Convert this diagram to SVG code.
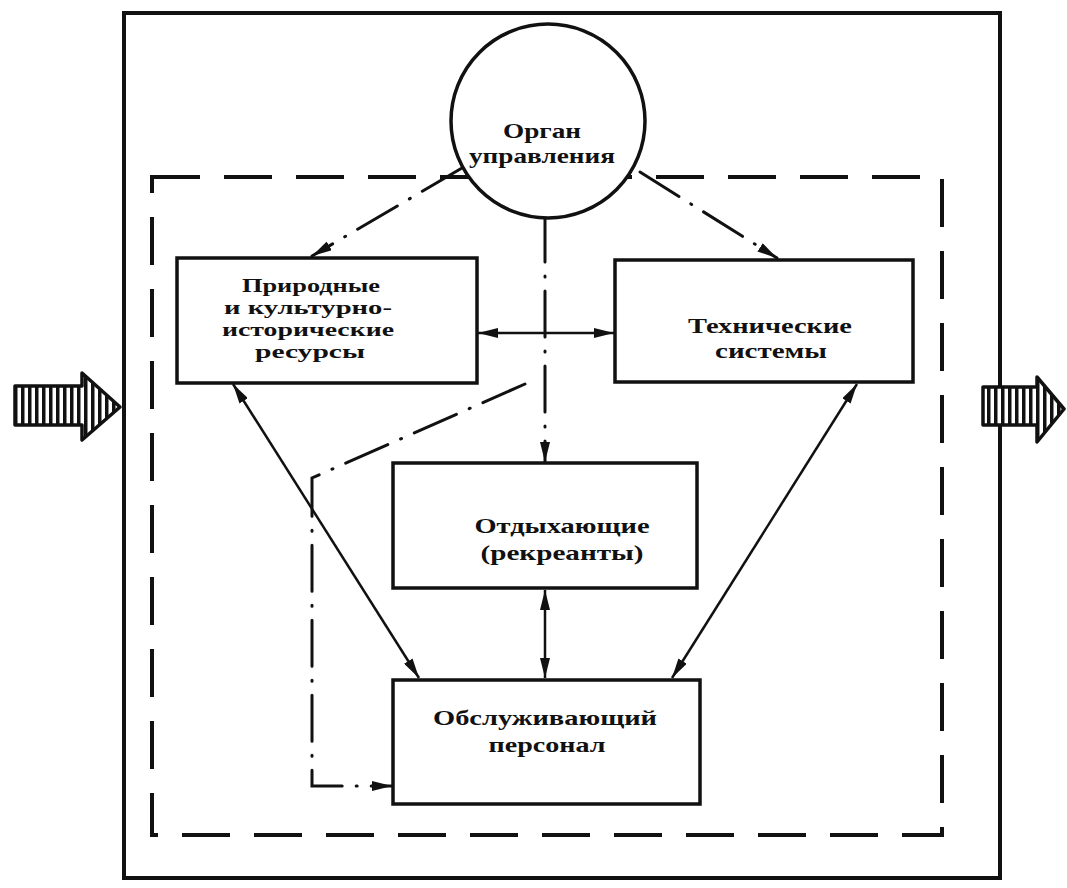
<svg xmlns="http://www.w3.org/2000/svg" width="1067" height="888" viewBox="0 0 1067 888">
<style>
.frame{fill:none;stroke:#111;stroke-width:4}
.dash{fill:none;stroke:#111;stroke-width:4;stroke-dasharray:48 24}
.box{fill:#fff;stroke:#111;stroke-width:3.5}
.dd{fill:none;stroke:#111;stroke-width:3;stroke-linecap:round;stroke-dasharray:46 14 1 14}
.sol{fill:none;stroke:#111;stroke-width:2.5}
.t{font-family:"Liberation Serif","Times New Roman",serif;font-weight:bold;font-size:21px;fill:#111;text-anchor:middle}
.s{font-size:18px}
.big{fill:url(#stripes);stroke:#111;stroke-width:3.5;stroke-linejoin:round}
</style>
<defs>
<marker id="ah" viewBox="0 0 20 10" refX="20" refY="5" markerWidth="20" markerHeight="10" markerUnits="userSpaceOnUse" orient="auto-start-reverse">
<path d="M0,0 L20,5 L0,10 Z" fill="#111"/>
</marker>
<pattern id="stripes" width="7" height="10" patternUnits="userSpaceOnUse">
<rect width="7" height="10" fill="#fff"/>
<rect width="3.5" height="10" fill="#111"/>
</pattern>
</defs>
<rect width="1067" height="888" fill="#fff"/>
<g id="frame">
<rect class="frame" x="124" y="13" width="876" height="865"/>
<rect class="dash" x="152" y="177" width="790" height="658"/>
</g>
<g id="input">
<polygon class="big" points="15,386 82,386 82,373 120,407 82,440 82,425 15,425"/>
</g>
<g id="output">
<polygon class="big" points="983,387 1037,387 1037,377 1064,409 1037,442 1037,425 983,425"/>
</g>
<g id="connectors">
<line class="dd" x1="462" y1="168" x2="312" y2="256" marker-end="url(#ah)"/>
<line class="dd" x1="640" y1="172" x2="777" y2="258" marker-end="url(#ah)"/>
<line class="dd" x1="545" y1="216" x2="545" y2="462" marker-end="url(#ah)"/>
<path class="dd" d="M525,384 L312,478 L312,786 L392,786" marker-end="url(#ah)"/>
<line class="sol" x1="478" y1="333" x2="614" y2="333" marker-start="url(#ah)" marker-end="url(#ah)"/>
<line class="sol" x1="233" y1="384" x2="419" y2="678" marker-start="url(#ah)" marker-end="url(#ah)"/>
<line class="sol" x1="857" y1="384" x2="672" y2="678" marker-start="url(#ah)" marker-end="url(#ah)"/>
<line class="sol" x1="545" y1="590" x2="545" y2="678" marker-start="url(#ah)" marker-end="url(#ah)"/>
</g>
<g id="organ">
<circle cx="548" cy="121" r="97" fill="#fff" stroke="#111" stroke-width="3.5"/>
<text class="t" x="542" y="138" textLength="78" lengthAdjust="spacingAndGlyphs">Орган</text>
<text class="t" x="542" y="163" textLength="146" lengthAdjust="spacingAndGlyphs">управления</text>
</g>
<g id="resources">
<rect class="box" x="177" y="258" width="300" height="125"/>
<text class="t s" x="311" y="292" textLength="138" lengthAdjust="spacingAndGlyphs">Природные</text>
<text class="t s" x="308" y="314" textLength="168" lengthAdjust="spacingAndGlyphs">и культурно-</text>
<text class="t s" x="308" y="336" textLength="172" lengthAdjust="spacingAndGlyphs">исторические</text>
<text class="t s" x="310" y="358" textLength="110" lengthAdjust="spacingAndGlyphs">ресурсы</text>
</g>
<g id="technical">
<rect class="box" x="615" y="260" width="298" height="122"/>
<text class="t" x="770" y="333" textLength="164" lengthAdjust="spacingAndGlyphs">Технические</text>
<text class="t" x="771" y="358" textLength="112" lengthAdjust="spacingAndGlyphs">системы</text>
</g>
<g id="tourists">
<rect class="box" x="393" y="463" width="304" height="125"/>
<text class="t" x="562" y="533" textLength="175" lengthAdjust="spacingAndGlyphs">Отдыхающие</text>
<text class="t" x="562" y="560" textLength="163" lengthAdjust="spacingAndGlyphs">(рекреанты)</text>
</g>
<g id="staff">
<rect class="box" x="393" y="680" width="307" height="124"/>
<text class="t" x="545" y="725" textLength="224" lengthAdjust="spacingAndGlyphs">Обслуживающий</text>
<text class="t" x="547" y="752" textLength="117" lengthAdjust="spacingAndGlyphs">персонал</text>
</g>
</svg>
